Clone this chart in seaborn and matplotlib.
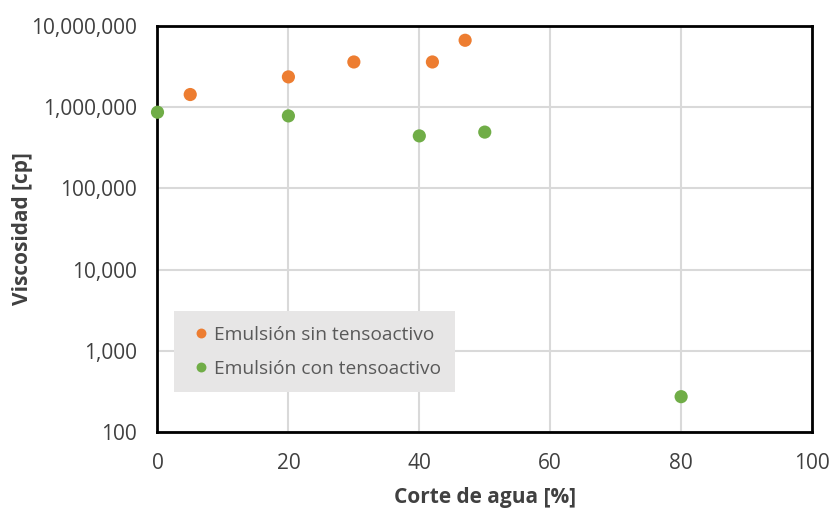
import matplotlib
matplotlib.use("Agg")
import matplotlib.pyplot as plt
import seaborn as sns
import pandas as pd
from matplotlib.ticker import FixedLocator, FuncFormatter

sin_x = [5, 20, 30, 42, 47]
sin_y = [1.42e6, 2.34e6, 3.57e6, 3.57e6, 6.6e6]
con_x = [0, 20, 40, 50, 80]
con_y = [8.6e5, 7.75e5, 4.4e5, 4.9e5, 273]
series_names = ["Emulsión sin tensoactivo", "Emulsión con tensoactivo"]
x_ticks = [0, 20, 40, 60, 80, 100]
y_ticks = [100, 1000, 10000, 100000, 1000000, 10000000]

df = pd.DataFrame({
    "x": sin_x + con_x,
    "y": sin_y + con_y,
    "serie": [series_names[0]] * len(sin_x) + [series_names[1]] * len(con_x),
})

sns.set_theme(style="white")
plt.rcParams["font.family"] = ["Open Sans", "DejaVu Sans"]

fig = plt.figure(figsize=(8.32, 5.12), dpi=100)
ax = fig.add_axes([0.1893, 0.156, 0.7867, 0.794])

sns.scatterplot(data=df, x="x", y="y", hue="serie", ax=ax,
                palette=["#ED7D31", "#70AD47"], s=90, edgecolor="none",
                zorder=3, clip_on=False)
ax.set_yscale("log")
ax.set_xlim(0, 100)
ax.set_ylim(100, 1e7)
ax.xaxis.set_major_locator(FixedLocator(x_ticks))
ax.yaxis.set_major_locator(FixedLocator(y_ticks))
ax.yaxis.set_minor_locator(FixedLocator([]))
ax.yaxis.set_major_formatter(FuncFormatter(lambda v, p: f"{int(round(v)):,}"))
ax.grid(True, color="#D9D9D9", linewidth=1.5, zorder=0)
ax.set_axisbelow(True)
for s in ax.spines.values():
    s.set_color("black")
    s.set_linewidth(2)
ax.tick_params(axis="both", labelsize=15, colors="#404040", length=0)
ax.tick_params(axis="y", pad=15)
ax.tick_params(axis="x", pad=15)
ax.set_xlabel("Corte de agua [%]", fontsize=15, fontweight="bold", color="#404040", va="center")
ax.set_ylabel("Viscosidad [cp]", fontsize=15, fontweight="bold", color="#404040", va="center")
ax.xaxis.set_label_coords(0.5, -0.162)
ax.yaxis.set_label_coords(-0.207, 0.5)

leg = ax.legend(loc="lower left", bbox_to_anchor=(0.025, 0.098), frameon=True,
                fontsize=13.8, handletextpad=0.05, borderpad=0.75, labelspacing=0.85,
                markerscale=0.75, handlelength=1.3, borderaxespad=0)
leg.get_frame().set_facecolor("#E7E6E6")
leg.get_frame().set_edgecolor("none")
leg.get_frame().set_alpha(1)
leg.get_frame().set_boxstyle("square", pad=0)
for t in leg.get_texts():
    t.set_color("#595959")

fig.savefig("out.png", dpi=100)
